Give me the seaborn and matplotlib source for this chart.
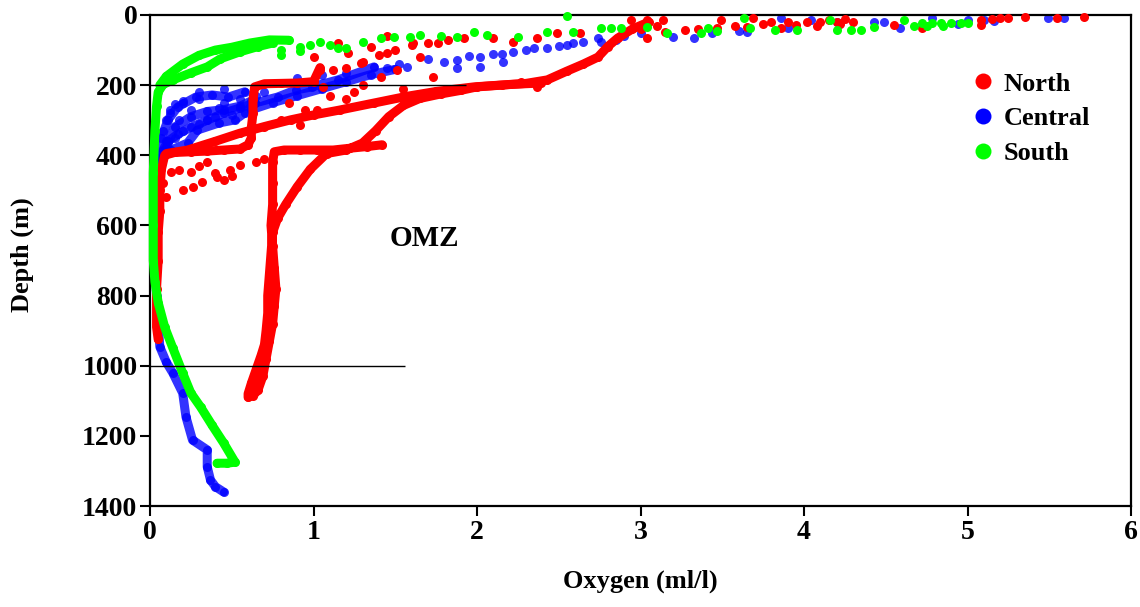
import numpy as np
import pandas as pd
import matplotlib
matplotlib.use("Agg")
import matplotlib.pyplot as plt
import seaborn as sns
from matplotlib.lines import Line2D

# ---------------- data ----------------
regions = ["North", "Central", "South"]
colors = {"North": "#FF0000", "Central": "#0000FF", "South": "#00FF00"}

# North: continuous profiles
north_a_oxy = [3.05, 2.95, 2.86, 2.8, 2.74, 2.65, 2.55, 2.43, 2.3, 2.15, 2.0,
               1.9, 1.78, 1.65, 1.55, 1.46, 1.38, 1.3, 1.2, 1.08, 0.98, 0.9, 0.83, 0.78, 0.75, 0.74,
               0.73, 0.72, 0.72, 0.71, 0.70, 0.68, 0.65, 0.62, 0.60, 0.60,
               0.63, 0.66, 0.69, 0.71, 0.73, 0.75, 0.76, 0.77, 0.76, 0.75, 0.74, 0.75, 0.75, 0.75,
               0.76, 0.82, 0.92, 1.02, 1.12, 1.22, 1.33, 1.42]
north_a_depth = [20, 40, 66, 90, 120, 140, 160, 185, 195, 200, 205,
                 215, 225, 238, 258, 290, 330, 365, 385, 395, 440, 490, 540, 580, 620, 680,
                 740, 800, 850, 900, 940, 970, 1010, 1050, 1080, 1090,
                 1085, 1070, 1030, 980, 930, 880, 830, 780, 720, 660, 600, 540, 480, 420,
                 390, 385, 385, 385, 385, 380, 375, 370]

north_b_oxy = [1.04, 1.0, 0.9, 0.8, 0.7, 0.64, 0.63, 0.63, 0.62, 0.62, 0.6, 0.55, 0.45, 0.35,
               0.25, 0.15, 0.09, 0.07, 0.06, 0.06, 0.05, 0.05, 0.04, 0.04, 0.04, 0.05]
north_b_depth = [150, 190, 194, 195, 196, 205, 240, 280, 320, 350, 370, 382, 385, 388,
                 390, 392, 400, 440, 500, 560, 620, 700, 780, 840, 890, 925]

north_c_oxy = [0.1, 0.23, 0.4, 0.55, 0.7, 0.86, 1.0, 1.16, 1.37, 1.57, 1.75, 1.98, 2.2, 2.39]
north_c_depth = [395, 385, 360, 337, 318, 299, 285, 271, 251, 232, 218, 205, 198, 194]

# North: scattered casts
north_pts_oxy = [1.0, 1.04, 1.06, 1.21, 1.29, 1.41, 1.45, 1.51, 1.61, 1.65, 1.73, 1.76, 1.82, 1.92,
                 2.1, 2.22, 2.37, 2.49, 2.27, 2.37, 1.1, 1.2, 1.3, 0.85, 0.95, 1.45, 1.35, 1.15,
                 0.8, 0.92, 1.02, 2.63, 1.7, 1.6, 1.5, 1.4, 1.3, 1.2, 1.12, 1.55, 1.25,
                 2.94, 3.04, 3.14, 3.49, 3.69, 4.02, 4.1, 4.2, 4.3, 4.55, 4.72, 5.08, 5.08, 5.2,
                 5.25, 5.35, 5.55, 5.71, 3.27, 3.47, 3.65, 3.86, 3.04, 4.15, 4.25, 3.9,
                 3.15, 3.35, 3.58, 3.75, 3.8, 3.95, 4.08, 4.22, 5.15, 3.0, 3.1,
                 0.2, 0.26, 0.32, 0.41, 0.49, 0.55, 0.13, 0.18, 0.25, 0.4, 0.45, 0.5, 0.08,
                 0.1, 0.65, 0.7, 0.35, 0.3]
north_pts_depth = [120, 157, 205, 108, 137, 177, 108, 157, 80, 120, 177, 80, 71, 66,
                   66, 77, 66, 51, 191, 205, 230, 240, 200, 250, 270, 60, 90, 80,
                   300, 315, 271, 51, 80, 85, 100, 115, 135, 150, 158, 210, 220,
                   14, 14, 14, 14, 9, 20, 20, 20, 20, 29, 37, 29, 14, 9,
                   9, 6, 9, 6, 43, 37, 34, 37, 66, 14, 12, 20,
                   48, 40, 30, 25, 20, 28, 30, 25, 12, 40, 30,
                   499, 490, 476, 462, 442, 428, 447, 442, 447, 450, 470, 460, 480,
                   520, 420, 410, 420, 430]

# Central: continuous profiles
central_a_oxy = [1.37, 1.15, 0.99, 0.89, 0.78, 0.64, 0.55, 0.45, 0.35, 0.25, 0.17, 0.11, 0.08,
                 0.06, 0.05, 0.04, 0.03, 0.03, 0.04, 0.05, 0.06, 0.1, 0.14, 0.2, 0.22, 0.26,
                 0.35, 0.35, 0.37, 0.4, 0.45]
central_a_depth = [148, 185, 205, 214, 234, 251, 265, 280, 300, 320, 340, 360, 385,
                   413, 450, 520, 600, 700, 800, 880, 946, 990, 1021, 1078, 1146, 1212,
                   1240, 1288, 1326, 1345, 1360]

central_b_oxy = [0.58, 0.48, 0.38, 0.28, 0.17, 0.11, 0.07, 0.07, 0.13, 0.23, 0.29, 0.42, 0.52, 0.58, 0.64]
central_b_depth = [219, 234, 228, 234, 262, 299, 350, 405, 385, 365, 328, 308, 299, 279, 251]

central_c_oxy = [0.1, 0.15, 0.25, 0.35, 0.45, 0.55, 0.62]
central_c_depth = [380, 320, 290, 275, 270, 260, 245]

central_d_oxy = [0.62, 0.75, 0.9, 1.05, 1.2, 1.35, 1.5]
central_d_depth = [270, 250, 230, 210, 190, 170, 155]

central_pts_oxy = [3.0, 2.9, 2.76, 2.59, 2.43, 2.22, 2.02, 1.88, 1.7, 1.57, 2.1, 2.3, 2.5, 2.65,
                   2.85, 1.8, 1.95, 2.15, 2.35, 2.55, 1.45, 1.52,
                   1.88, 2.02, 2.16, 2.74, 3.2, 3.33, 3.44, 3.6, 3.65, 3.86, 3.9,
                   4.04, 4.2, 4.43, 4.49, 4.59, 4.78, 5.0, 5.1, 4.94, 5.16, 5.49, 5.59,
                   0.3, 0.45, 0.9, 1.05, 1.2, 0.2, 0.15, 0.12,
                   0.1, 0.15, 0.2, 0.3, 0.35, 0.4, 0.5, 0.12, 0.2, 0.3, 0.45, 0.55, 0.65,
                   0.7, 0.25, 0.08, 0.1, 0.18, 0.42]
central_pts_depth = [50, 60, 77, 80, 94, 105, 120, 128, 125, 148, 110, 100, 88, 78,
                     70, 135, 118, 112, 95, 85, 150, 140,
                     151, 148, 134, 66, 63, 66, 51, 46, 48, 9, 37,
                     14, 20, 20, 20, 37, 9, 14, 14, 26, 17, 9, 8,
                     220, 210, 180, 170, 165, 245, 255, 280,
                     300, 350, 330, 310, 300, 290, 285, 270, 250, 240, 250, 240, 230,
                     220, 270, 330, 360, 300, 265]

# South: continuous profiles
south_a_oxy = [0.75, 0.66, 0.55, 0.43, 0.35, 0.25, 0.14, 0.08, 0.05, 0.04, 0.03, 0.02, 0.02,
               0.02, 0.03, 0.05, 0.09, 0.14, 0.2, 0.25, 0.31, 0.38, 0.45, 0.52, 0.47, 0.41]
south_a_depth = [80, 90, 105, 125, 148, 165, 185, 198, 220, 260, 330, 450, 600,
                 700, 760, 820, 890, 950, 1021, 1078, 1118, 1170, 1220, 1275, 1278, 1278]

south_b_oxy = [0.06, 0.1, 0.2, 0.3, 0.4, 0.5, 0.61, 0.73, 0.85]
south_b_depth = [200, 175, 140, 115, 100, 92, 80, 71, 72]

south_pts_oxy = [0.8, 0.92, 1.04, 1.15, 1.3, 1.41, 1.49, 1.59, 1.65, 1.78, 1.88, 1.98, 2.06, 2.25,
                 2.43, 2.55, 2.59, 2.76, 2.82, 2.88, 3.04, 3.16, 3.37, 3.41, 3.47, 3.63, 3.67,
                 3.82, 3.96, 4.16, 4.2, 4.29, 4.35, 4.43, 4.61, 4.67, 4.72, 4.78, 4.84, 4.9,
                 4.96, 5.0, 4.75, 4.85, 1.1, 1.2, 0.98, 0.8, 0.92]
south_pts_depth = [100, 91, 77, 94, 77, 66, 63, 63, 57, 60, 63, 48, 57, 63,
                   48, 4, 48, 37, 37, 37, 34, 51, 51, 37, 45, 9, 37,
                   43, 43, 14, 43, 43, 43, 34, 14, 31, 23, 23, 23, 23,
                   23, 23, 30, 30, 85, 95, 85, 114, 103]

# OMZ boundary lines
omz_depths = [200, 1000]
omz_line_start = [0.0, 0.0]
omz_line_end = [1.93, 1.56]
omz_label = "OMZ"
omz_label_pos = (1.68, 636)

x_ticks = [0, 1, 2, 3, 4, 5, 6]
y_ticks = [0, 200, 400, 600, 800, 1000, 1200, 1400]

# ---------------- plot ----------------
sns.set_style("white")
plt.rcParams["font.family"] = ["Liberation Serif", "DejaVu Serif"]
plt.rcParams["font.weight"] = "bold"
plt.rcParams["text.color"] = "black"
plt.rcParams["axes.labelcolor"] = "black"
plt.rcParams["xtick.color"] = "black"
plt.rcParams["ytick.color"] = "black"

fig = plt.figure(figsize=(11.4, 6.07), dpi=100)
ax = fig.add_axes([150 / 1140, 101 / 607, 981 / 1140, 491 / 607])

dot = 6.5  # marker diameter in points
zorders = {"Central": 2, "North": 3, "South": 4}
alphas = {"Central": 0.8, "North": 1.0, "South": 1.0}

line_sets = [
    ("Central", central_a_oxy, central_a_depth),
    ("Central", central_b_oxy, central_b_depth),
    ("Central", central_c_oxy, central_c_depth),
    ("Central", central_d_oxy, central_d_depth),
    ("North", north_a_oxy, north_a_depth),
    ("North", north_b_oxy, north_b_depth),
    ("North", north_c_oxy, north_c_depth),
    ("South", south_a_oxy, south_a_depth),
    ("South", south_b_oxy, south_b_depth),
]
for reg, xs, ys in line_sets:
    sns.lineplot(x=xs, y=ys, sort=False, estimator=None, ax=ax, color=colors[reg],
                 lw=dot, marker="o", ms=dot, mew=0, alpha=alphas[reg],
                 solid_capstyle="round", solid_joinstyle="round",
                 zorder=zorders[reg], legend=False)

pts = pd.concat([
    pd.DataFrame({"Oxygen": central_pts_oxy, "Depth": central_pts_depth, "Region": "Central"}),
    pd.DataFrame({"Oxygen": north_pts_oxy, "Depth": north_pts_depth, "Region": "North"}),
    pd.DataFrame({"Oxygen": south_pts_oxy, "Depth": south_pts_depth, "Region": "South"}),
], ignore_index=True)
for reg in ["Central", "North", "South"]:
    sub = pts[pts["Region"] == reg]
    sns.scatterplot(data=sub, x="Oxygen", y="Depth", color=colors[reg], s=dot ** 2,
                    linewidth=0, alpha=alphas[reg], ax=ax, zorder=zorders[reg] + 0.5,
                    legend=False)

for coll in ax.collections:
    coll.set_clip_on(False)
for ln in ax.lines:
    ln.set_clip_on(False)

ax.hlines(omz_depths, omz_line_start, omz_line_end, colors="black", lw=1.0, zorder=5)
ax.text(omz_label_pos[0], omz_label_pos[1], omz_label, ha="center", va="center",
        fontsize=21, fontweight="bold", color="black")

ax.set_xlim(0, 6)
ax.set_ylim(1400, 0)
ax.set_xticks(x_ticks)
ax.set_yticks(y_ticks)
ax.tick_params(axis="both", which="major", direction="out", length=7, width=1.5,
               labelsize=20, color="black", labelcolor="black", bottom=True, left=True)
ax.tick_params(axis="x", pad=3)
ax.tick_params(axis="y", pad=2)
for lab in ax.get_xticklabels() + ax.get_yticklabels():
    lab.set_fontweight("bold")
for sp in ax.spines.values():
    sp.set_visible(True)
    sp.set_color("black")
    sp.set_linewidth(1.6)

ax.set_xlabel("Oxygen (ml/l)", fontsize=19, fontweight="bold", va="center", color="black")
ax.xaxis.set_label_coords(0.5, -0.153)
ax.set_ylabel("Depth (m)", fontsize=19, fontweight="bold", va="center", ha="center", color="black")
ax.yaxis.set_label_coords(-0.1305, 0.511)

handles = [Line2D([], [], ls="none", marker="o", ms=11.5, mew=0, color=colors[r]) for r in regions]
leg = ax.legend(handles, regions, loc="upper left", bbox_to_anchor=(0.822, 0.905), frameon=False,
                prop={"family": "Liberation Serif", "weight": "bold", "size": 19},
                handletextpad=0.2, labelspacing=0.42, handlelength=1.2, borderaxespad=0)
for t in leg.get_texts():
    t.set_color("black")

fig.savefig("out.png", dpi=100)
